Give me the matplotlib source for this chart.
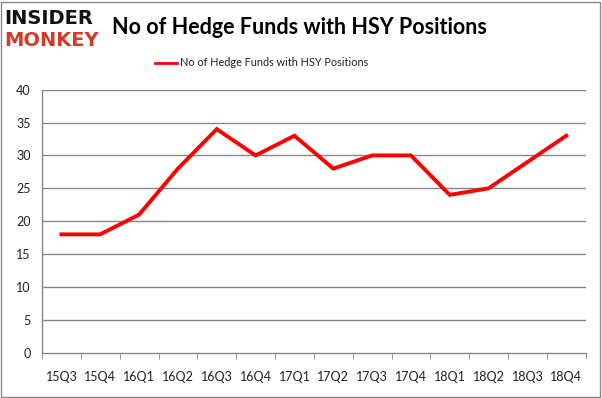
import numpy as np
import matplotlib.pyplot as plt
from matplotlib.patches import Rectangle

# datos
quarters = ["15Q3", "15Q4", "16Q1", "16Q2", "16Q3", "16Q4", "17Q1",
            "17Q2", "17Q3", "17Q4", "18Q1", "18Q2", "18Q3", "18Q4"]
funds = [18, 18, 21, 28, 34, 30, 33, 28, 30, 30, 24, 25, 29, 33]
serie = "No of Hedge Funds with HSY Positions"
y_ticks = [0, 5, 10, 15, 20, 25, 30, 35, 40]

plt.rcParams['font.family'] = ['Lato', 'DejaVu Sans']

fig = plt.figure(figsize=(6.02, 3.98), dpi=100)
W, H = 602, 398
ax = fig.add_axes([42 / W, 1 - 352.7 / H, (585.7 - 42) / W, (352.7 - 89.7) / H])

x = np.arange(len(quarters))
ax.plot(x, funds, color='#ff0000', lw=2.8, solid_joinstyle='miter', label=serie)

ax.set_xlim(-0.5, len(quarters) - 0.5)
ax.set_ylim(0, 40)
ax.set_yticks(y_ticks)
ax.set_yticklabels([str(v) for v in y_ticks], fontsize=9, color='#222222')
ax.set_xticks(x)
ax.set_xticklabels(quarters, fontsize=9, color='#222222')
ax.tick_params(axis='x', length=0, pad=13)
ax.tick_params(axis='y', length=0, pad=8)
# marcas en los bordes de las categorías
ax.set_xticks(np.arange(len(quarters) + 1) - 0.5, minor=True)
ax.tick_params(axis='x', which='minor', length=4, color='#888888', direction='out')

for v in y_ticks[1:]:
    ax.axhline(v, color='#888888', lw=1, zorder=0)
for s in ['top', 'right']:
    ax.spines[s].set_visible(False)
for s in ['left', 'bottom']:
    ax.spines[s].set_color('#888888')
    ax.spines[s].set_linewidth(1)

leg = fig.legend(loc='center', bbox_to_anchor=(262 / W, 1 - 63 / H), frameon=False,
                 fontsize=7.8, handlelength=2.0, handletextpad=0.3)
for t in leg.get_texts():
    t.set_color('#222222')
for l in leg.get_lines():
    l.set_linewidth(2)

fig.text(112 / W, 1 - 27 / H, serie, fontsize=15.5, fontweight='bold',
         ha='left', va='center', color='black')

# logo
fig.text(4 / W, 1 - 18 / H, "INSIDER", fontsize=14, fontweight='heavy',
         ha='left', va='center', color='#111111', family='DejaVu Sans')
fig.text(4 / W, 1 - 41 / H, "MONKEY", fontsize=14, fontweight='heavy',
         ha='left', va='center', color='#d23a2a', family='DejaVu Sans')

# borde exterior
fig.patches.append(Rectangle((0.5 / W, 1.5 / H), 599 / W, 395 / H, transform=fig.transFigure,
                             fill=False, edgecolor='#888888', lw=1))

fig.savefig("out.png", dpi=100)
